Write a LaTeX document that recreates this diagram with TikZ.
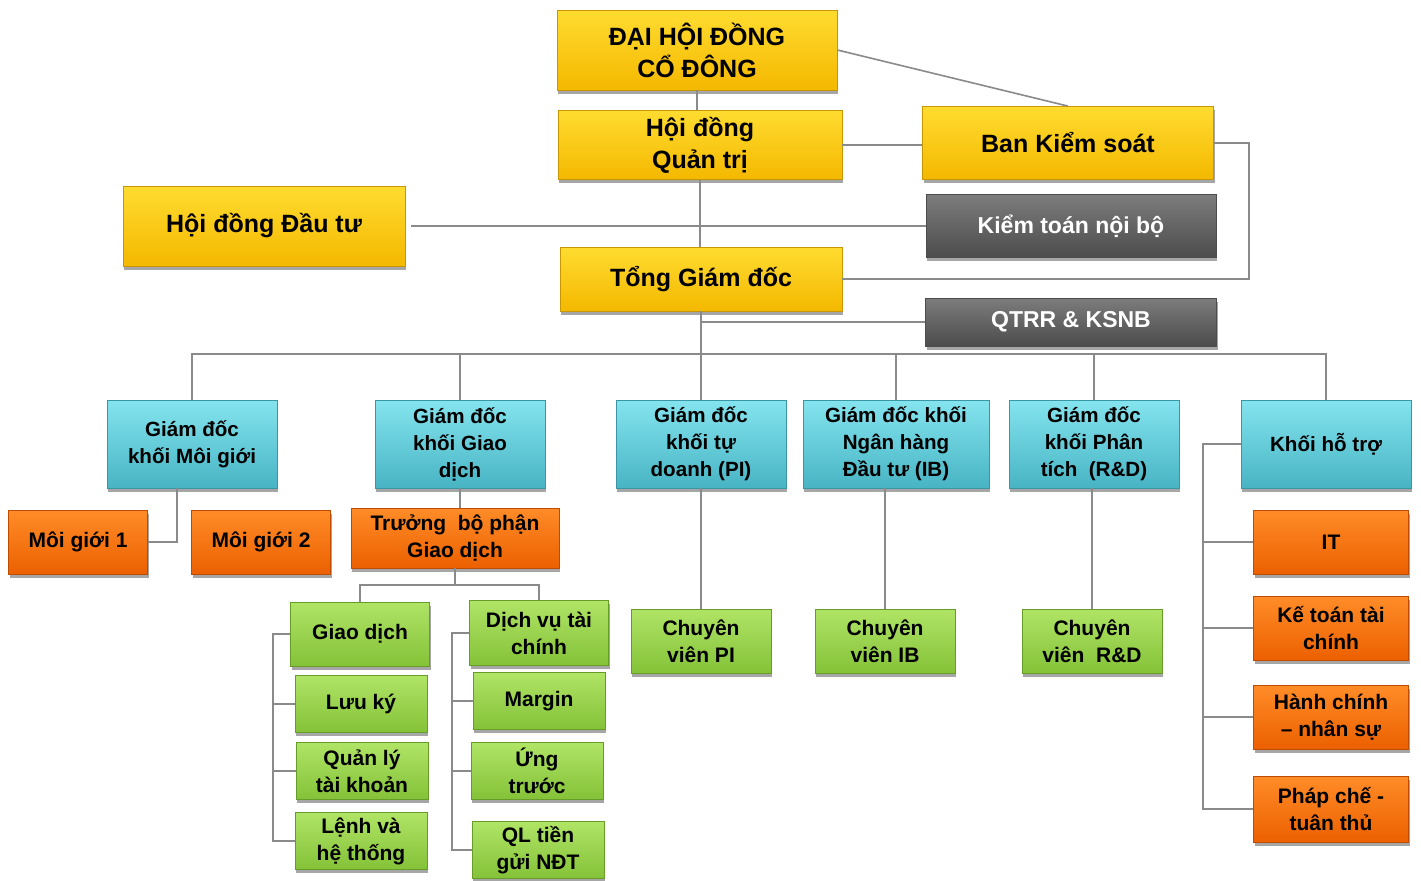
\documentclass[tikz,border=0pt]{standalone}
\usepackage{fontspec}
\setmainfont{Liberation Sans}
\usepackage{tikz}
\usetikzlibrary{shadows}

\definecolor{ytop}{HTML}{FFDC30}
\definecolor{ybot}{HTML}{F4B800}
\definecolor{yedge}{HTML}{C89600}
\definecolor{ctop}{HTML}{84E4EE}
\definecolor{cbot}{HTML}{48B4C4}
\definecolor{cedge}{HTML}{3A96A4}
\definecolor{otop}{HTML}{FF8C28}
\definecolor{obot}{HTML}{EC6000}
\definecolor{oedge}{HTML}{BE4C00}
\definecolor{gtop}{HTML}{B0E466}
\definecolor{gbot}{HTML}{84C238}
\definecolor{gedge}{HTML}{689C28}
\definecolor{dtop}{HTML}{7C7C7C}
\definecolor{dbot}{HTML}{4C4C4C}
\definecolor{linkgray}{HTML}{8A8A8A}

\begin{document}
\begin{tikzpicture}[x=0.5pt, y=-0.5pt,
    box/.style={draw, line width=0.4pt, align=center, inner sep=1pt,
        drop shadow={shadow xshift=0.6pt, shadow yshift=-1.8pt, opacity=0.35, fill=black}},
    yellowbox/.style={box, draw=yedge, top color=ytop, bottom color=ybot,
        font=\fontsize{12.5}{16}\selectfont\bfseries},
    darkbox/.style={box, draw=dbot, top color=dtop, bottom color=dbot, text=white,
        font=\fontsize{11.5}{14}\selectfont\bfseries},
    cyanbox/.style={box, draw=cedge, top color=ctop, bottom color=cbot,
        minimum width=85pt, minimum height=44pt,
        font=\fontsize{10.3}{13.5}\selectfont\bfseries},
    orangebox/.style={box, draw=oedge, top color=otop, bottom color=obot,
        minimum width=77.5pt, minimum height=32pt,
        font=\fontsize{10.5}{13.5}\selectfont\bfseries},
    greenbox/.style={box, draw=gedge, top color=gtop, bottom color=gbot,
        minimum width=66pt, minimum height=28.5pt,
        font=\fontsize{10.5}{13.5}\selectfont\bfseries},
    link/.style={draw=linkgray, line width=0.8pt}]
    \useasboundingbox (0,0) rectangle (1421,880);

    % top management
    \node[yellowbox, minimum width=140pt, minimum height=40pt] (dhdcd) at (697,50) {ĐẠI HỘI ĐỒNG\\CỔ ĐÔNG};
    \node[yellowbox, minimum width=142pt, minimum height=34.5pt] (hdqt) at (700,145) {Hội đồng\\Quản trị};
    \node[yellowbox, minimum width=145.5pt, minimum height=36.5pt] (bks) at (1068,143) {Ban Kiểm soát};
    \node[yellowbox, minimum width=141pt, minimum height=40pt] (hddt) at (264,226) {Hội đồng Đầu tư};
    \node[yellowbox, minimum width=141pt, minimum height=32pt] (tgd) at (701,279) {Tổng Giám đốc};
    \node[darkbox, minimum width=145pt, minimum height=31.5pt] (ktnb) at (1071,226) {Kiểm toán nội bộ};
    \node[darkbox, minimum width=145.5pt, minimum height=24pt] (qtrr) at (1071,322) {QTRR \& KSNB};

    % directors
    \node[cyanbox] (gdmg) at (192,444) {Giám đốc\\khối Môi giới};
    \node[cyanbox] (gdgd) at (460,444) {Giám đốc\\khối Giao\\dịch};
    \node[cyanbox] (gdpi) at (701,444) {Giám đốc\\khối tự\\doanh (PI)};
    \node[cyanbox, minimum width=93pt] (gdib) at (896,444) {Giám đốc khối\\Ngân hàng\\Đầu tư (IB)};
    \node[cyanbox] (gdrd) at (1094,444) {Giám đốc\\khối Phân\\tích\ \ (R\&D)};
    \node[cyanbox] (khts) at (1326,444) {Khối hỗ trợ};

    % departments
    \node[orangebox, minimum width=69.5pt] (mg1) at (78,542) {Môi giới 1};
    \node[orangebox, minimum width=69.5pt] (mg2) at (261,542) {Môi giới 2};
    \node[orangebox, minimum width=104pt, minimum height=30pt] (tbp) at (455,538) {Trưởng\ \ bộ phận\\Giao dịch};
    \node[orangebox] (it) at (1331,542) {IT};
    \node[orangebox] (kttc) at (1331,628) {Kế toán tài\\chính};
    \node[orangebox] (hcns) at (1331,717) {Hành chính\\– nhân sự};
    \node[orangebox, minimum height=33pt] (pctt) at (1331,809) {Pháp chế -\\tuân thủ};

    % staff
    \node[greenbox, minimum width=69.5pt, minimum height=32pt] (giaodich) at (360,634) {Giao dịch};
    \node[greenbox] (luuky) at (361,704) {Lưu ký};
    \node[greenbox] (qltk) at (362,771) {Quản lý\\tài khoản};
    \node[greenbox] (lenh) at (361,841) {Lệnh và\\hệ thống};
    \node[greenbox, minimum width=69.5pt, minimum height=32.5pt] (dvtc) at (539,633) {Dịch vụ tài\\chính};
    \node[greenbox] (margin) at (539,701) {Margin};
    \node[greenbox] (ungtruoc) at (537,771) {Ứng\\trước};
    \node[greenbox] (qltien) at (538,850) {QL tiền\\gửi NĐT};
    \node[greenbox, minimum width=70pt, minimum height=32pt] (cvpi) at (701,641) {Chuyên\\viên PI};
    \node[greenbox, minimum width=70pt, minimum height=32pt] (cvib) at (885,641) {Chuyên\\viên IB};
    \node[greenbox, minimum width=70pt, minimum height=32pt] (cvrd) at (1092,641) {Chuyên\\viên\ \ R\&D};

    % connectors
    \coordinate (bus) at (700,354);
    \coordinate (gdsplit) at (455,585);
    \coordinate (lb) at (273,0);
    \coordinate (rb) at (452,0);
    \coordinate (hb) at (1203,0);

    \draw[link] (dhdcd.south) -- (dhdcd.south |- hdqt.north);
    \draw[link] (dhdcd.east) -- (bks.north);
    \draw[link] (hdqt.east) -- (hdqt.east -| bks.west);
    \draw[link] (bks.east) -- ++(35,0) |- (tgd.east);
    \draw[link] ([xshift=3pt]hddt.east) -- (ktnb.west);
    \draw[link] (hdqt.south) -- (hdqt.south |- tgd.north);
    \draw[link] (tgd.south) -- (gdpi.north);
    \draw[link] (tgd.south |- qtrr.west) -- (qtrr.west);

    \draw[link] (gdmg.north) |- (bus) -| (khts.north);
    \foreach \n in {gdgd,gdib,gdrd}
        \draw[link] (\n.north) -- (\n.north |- bus);

    \draw[link] ([xshift=-7.5pt]gdmg.south) |- (mg1.east);

    \draw[link] (gdgd.south) -- (gdgd.south |- tbp.north);
    \draw[link] (tbp.south) -- (gdsplit);
    \draw[link] (giaodich.north) |- (gdsplit) -| (dvtc.north);

    \draw[link] (giaodich.west) -- (giaodich.west -| lb) |- (lenh.west);
    \foreach \n in {luuky,qltk}
        \draw[link] (\n.west) -- (\n.west -| lb);
    \draw[link] (dvtc.west) -- (dvtc.west -| rb) |- (qltien.west);
    \foreach \n in {margin,ungtruoc}
        \draw[link] (\n.west) -- (\n.west -| rb);

    \draw[link] (gdpi.south) -- (cvpi.north);
    \draw[link] (cvib.north |- gdib.south) -- (cvib.north);
    \draw[link] (cvrd.north |- gdrd.south) -- (cvrd.north);

    \draw[link] (khts.west) -- (khts.west -| hb) |- (pctt.west);
    \foreach \n in {it,kttc,hcns}
        \draw[link] (\n.west) -- (\n.west -| hb);
\end{tikzpicture}
\end{document}
